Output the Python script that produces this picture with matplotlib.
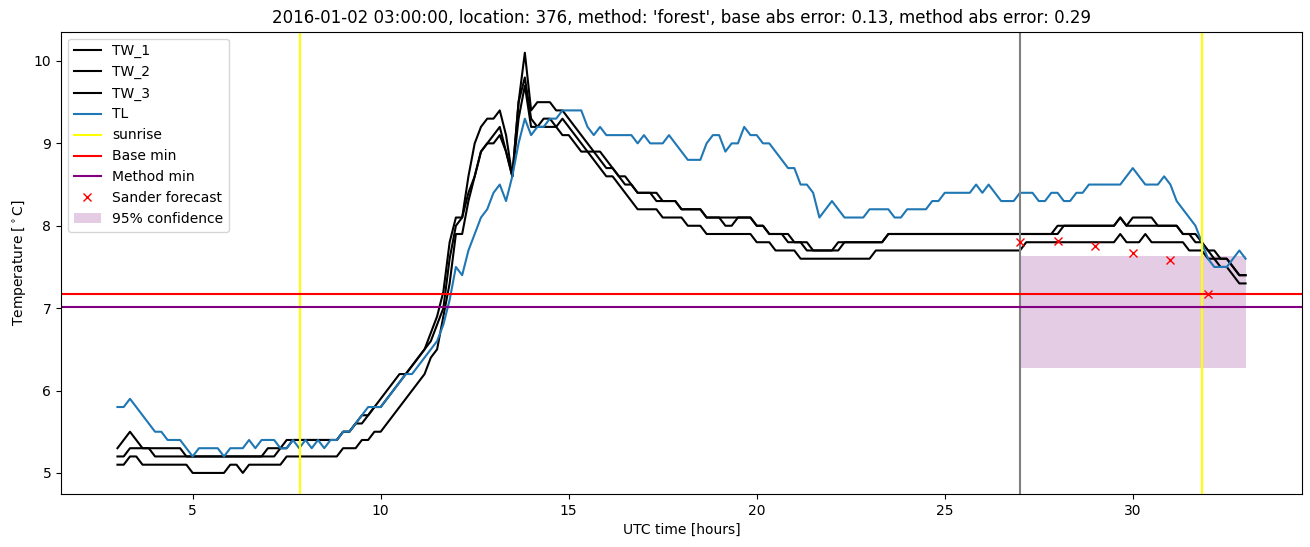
import numpy as np
import matplotlib
matplotlib.use("Agg")
import matplotlib.pyplot as plt

# 10-minute samples from 03:00 (t=3 h) to 09:00 next day (t=33 h)
hours = np.linspace(3, 33, 181)

tw_1 = [
    5.3, 5.4, 5.5, 5.4, 5.3, 5.3,
    5.3, 5.3, 5.3, 5.3, 5.3, 5.2,
    5.2, 5.2, 5.2, 5.2, 5.2, 5.2,
    5.2, 5.2, 5.2, 5.2, 5.2, 5.2,
    5.3, 5.3, 5.3, 5.4, 5.4, 5.4,
    5.4, 5.4, 5.4, 5.4, 5.4, 5.4,
    5.5, 5.5, 5.6, 5.7, 5.7, 5.8,
    5.9, 6.0, 6.1, 6.2, 6.2, 6.3,
    6.4, 6.5, 6.7, 6.9, 7.2, 7.8,
    8.1, 8.1, 8.6, 9.0, 9.2, 9.3,
    9.3, 9.4, 9.1, 8.6, 9.5, 10.1,
    9.4, 9.5, 9.5, 9.5, 9.4, 9.4,
    9.3, 9.2, 9.1, 9.0, 8.9, 8.9,
    8.8, 8.7, 8.6, 8.6, 8.5, 8.4,
    8.4, 8.4, 8.4, 8.3, 8.3, 8.3,
    8.2, 8.2, 8.2, 8.2, 8.1, 8.1,
    8.1, 8.0, 8.0, 8.1, 8.1, 8.1,
    8.0, 8.0, 7.9, 7.9, 7.9, 7.9,
    7.8, 7.8, 7.8, 7.7, 7.7, 7.7,
    7.7, 7.8, 7.8, 7.8, 7.8, 7.8,
    7.8, 7.8, 7.8, 7.9, 7.9, 7.9,
    7.9, 7.9, 7.9, 7.9, 7.9, 7.9,
    7.9, 7.9, 7.9, 7.9, 7.9, 7.9,
    7.9, 7.9, 7.9, 7.9, 7.9, 7.9,
    7.9, 7.9, 7.9, 7.9, 7.9, 7.9,
    8.0, 8.0, 8.0, 8.0, 8.0, 8.0,
    8.0, 8.0, 8.0, 8.0, 8.1, 8.0,
    8.1, 8.1, 8.1, 8.1, 8.0, 8.0,
    8.0, 8.0, 7.9, 7.9, 7.9, 7.8,
    7.7, 7.7, 7.6, 7.6, 7.5, 7.4,
    7.4,
]

tw_2 = [
    5.2, 5.2, 5.3, 5.3, 5.3, 5.3,
    5.2, 5.2, 5.2, 5.2, 5.2, 5.2,
    5.2, 5.2, 5.2, 5.2, 5.2, 5.2,
    5.2, 5.2, 5.2, 5.2, 5.2, 5.2,
    5.2, 5.2, 5.3, 5.3, 5.4, 5.4,
    5.4, 5.4, 5.4, 5.4, 5.4, 5.4,
    5.5, 5.5, 5.6, 5.6, 5.7, 5.8,
    5.8, 5.9, 6.0, 6.1, 6.2, 6.3,
    6.4, 6.5, 6.6, 6.8, 7.0, 7.6,
    8.0, 8.1, 8.4, 8.6, 8.9, 9.0,
    9.1, 9.2, 8.9, 8.6, 9.5, 9.8,
    9.3, 9.2, 9.3, 9.3, 9.2, 9.3,
    9.2, 9.1, 9.0, 8.9, 8.9, 8.8,
    8.7, 8.7, 8.6, 8.5, 8.5, 8.4,
    8.4, 8.4, 8.3, 8.3, 8.3, 8.3,
    8.2, 8.2, 8.2, 8.2, 8.1, 8.1,
    8.1, 8.1, 8.1, 8.1, 8.1, 8.1,
    8.0, 8.0, 7.9, 7.9, 7.9, 7.8,
    7.8, 7.8, 7.7, 7.7, 7.7, 7.7,
    7.7, 7.7, 7.8, 7.8, 7.8, 7.8,
    7.8, 7.8, 7.8, 7.9, 7.9, 7.9,
    7.9, 7.9, 7.9, 7.9, 7.9, 7.9,
    7.9, 7.9, 7.9, 7.9, 7.9, 7.9,
    7.9, 7.9, 7.9, 7.9, 7.9, 7.9,
    7.9, 7.9, 7.9, 7.9, 7.9, 7.9,
    7.9, 8.0, 8.0, 8.0, 8.0, 8.0,
    8.0, 8.0, 8.0, 8.0, 8.1, 8.0,
    8.0, 8.0, 8.0, 8.0, 8.0, 8.0,
    8.0, 8.0, 7.9, 7.9, 7.8, 7.8,
    7.7, 7.6, 7.6, 7.6, 7.5, 7.4,
    7.4,
]

tw_3 = [
    5.1, 5.1, 5.2, 5.2, 5.1, 5.1,
    5.1, 5.1, 5.1, 5.1, 5.1, 5.1,
    5.0, 5.0, 5.0, 5.0, 5.0, 5.0,
    5.1, 5.1, 5.0, 5.1, 5.1, 5.1,
    5.1, 5.1, 5.1, 5.2, 5.2, 5.2,
    5.2, 5.2, 5.2, 5.2, 5.2, 5.2,
    5.3, 5.3, 5.3, 5.4, 5.4, 5.5,
    5.5, 5.6, 5.7, 5.8, 5.9, 6.0,
    6.1, 6.2, 6.4, 6.5, 6.9, 7.3,
    7.9, 7.9, 8.3, 8.6, 8.9, 9.0,
    9.0, 9.1, 8.9, 8.6, 9.3, 9.7,
    9.2, 9.2, 9.2, 9.2, 9.2, 9.1,
    9.1, 9.0, 8.9, 8.9, 8.8, 8.7,
    8.6, 8.6, 8.5, 8.4, 8.3, 8.2,
    8.2, 8.2, 8.2, 8.1, 8.1, 8.1,
    8.1, 8.0, 8.0, 8.0, 7.9, 7.9,
    7.9, 7.9, 7.9, 7.9, 7.9, 7.9,
    7.8, 7.8, 7.8, 7.7, 7.7, 7.7,
    7.7, 7.6, 7.6, 7.6, 7.6, 7.6,
    7.6, 7.6, 7.6, 7.6, 7.6, 7.6,
    7.6, 7.7, 7.7, 7.7, 7.7, 7.7,
    7.7, 7.7, 7.7, 7.7, 7.7, 7.7,
    7.7, 7.7, 7.7, 7.7, 7.7, 7.7,
    7.7, 7.7, 7.7, 7.7, 7.7, 7.7,
    7.7, 7.8, 7.8, 7.8, 7.8, 7.8,
    7.8, 7.8, 7.8, 7.8, 7.8, 7.8,
    7.8, 7.8, 7.8, 7.8, 7.9, 7.8,
    7.8, 7.8, 7.9, 7.8, 7.8, 7.8,
    7.8, 7.8, 7.8, 7.7, 7.7, 7.7,
    7.6, 7.6, 7.5, 7.5, 7.4, 7.3,
    7.3,
]

tl = [
    5.8, 5.8, 5.9, 5.8, 5.7, 5.6,
    5.5, 5.5, 5.4, 5.4, 5.4, 5.3,
    5.2, 5.3, 5.3, 5.3, 5.3, 5.2,
    5.3, 5.3, 5.3, 5.4, 5.3, 5.4,
    5.4, 5.4, 5.3, 5.3, 5.4, 5.3,
    5.4, 5.3, 5.4, 5.3, 5.4, 5.4,
    5.5, 5.5, 5.6, 5.7, 5.8, 5.8,
    5.8, 5.9, 6.0, 6.1, 6.2, 6.2,
    6.3, 6.4, 6.5, 6.6, 6.8, 7.1,
    7.5, 7.4, 7.7, 7.9, 8.1, 8.2,
    8.4, 8.5, 8.3, 8.6, 9.0, 9.3,
    9.1, 9.2, 9.2, 9.3, 9.3, 9.4,
    9.4, 9.4, 9.4, 9.2, 9.1, 9.2,
    9.1, 9.1, 9.1, 9.1, 9.1, 9.0,
    9.1, 9.0, 9.0, 9.0, 9.1, 9.0,
    8.9, 8.8, 8.8, 8.8, 9.0, 9.1,
    9.1, 8.9, 9.0, 9.0, 9.2, 9.1,
    9.1, 9.0, 9.0, 8.9, 8.8, 8.7,
    8.7, 8.5, 8.5, 8.4, 8.1, 8.2,
    8.3, 8.2, 8.1, 8.1, 8.1, 8.1,
    8.2, 8.2, 8.2, 8.2, 8.1, 8.1,
    8.2, 8.2, 8.2, 8.2, 8.3, 8.3,
    8.4, 8.4, 8.4, 8.4, 8.4, 8.5,
    8.4, 8.5, 8.4, 8.3, 8.3, 8.3,
    8.4, 8.4, 8.4, 8.3, 8.3, 8.4,
    8.4, 8.3, 8.3, 8.4, 8.4, 8.5,
    8.5, 8.5, 8.5, 8.5, 8.5, 8.6,
    8.7, 8.6, 8.5, 8.5, 8.5, 8.6,
    8.5, 8.3, 8.2, 8.1, 8.0, 7.8,
    7.6, 7.5, 7.5, 7.5, 7.6, 7.7,
    7.6,
]

sunrise_hours = [7.85, 31.83]
forecast_start = 27.0
base_min = 7.17
method_min = 7.01
forecast_hours = [27, 28, 29, 30, 31, 32]
forecast_values = [7.80, 7.82, 7.75, 7.67, 7.59, 7.17]
conf_hours = [27, 33]
conf_low = 6.27
conf_high = 7.63

title = ("2016-01-02 03:00:00, location: 376, method: 'forest', "
         "base abs error: 0.13, method abs error: 0.29")

fig, ax = plt.subplots(figsize=(13.1, 5.47), dpi=100)
fig.subplots_adjust(left=0.0466, right=0.9939, top=0.942, bottom=0.097)

ax.plot(hours, tw_1, color='black', label='TW_1')
ax.plot(hours, tw_2, color='black', label='TW_2')
ax.plot(hours, tw_3, color='black', label='TW_3')
ax.plot(hours, tl, color='tab:blue', label='TL')
ax.axvline(sunrise_hours[0], color='yellow', label='sunrise')
ax.axvline(sunrise_hours[1], color='yellow')
ax.axvline(forecast_start, color='gray')
ax.axhline(base_min, color='red', label='Base min')
ax.axhline(method_min, color='purple', label='Method min')
ax.plot(forecast_hours, forecast_values, 'rx', label='Sander forecast')
ax.fill_between(conf_hours, conf_low, conf_high, color='purple', alpha=0.2,
                linewidth=0, label='95% confidence')

ax.set_title(title)
ax.set_xlabel('UTC time [hours]')
ax.set_ylabel(r'Temperature [$^\circ$C]')
ax.legend(loc='upper left')

fig.savefig('out.png', dpi=100)
